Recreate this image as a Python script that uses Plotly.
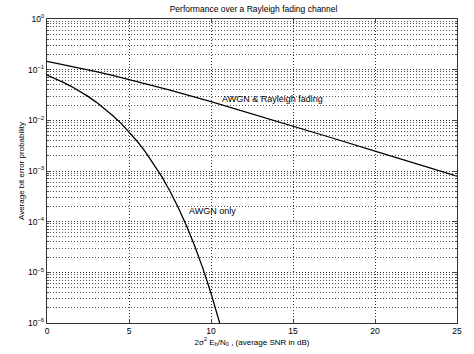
import plotly.graph_objects as go

# Values
snr_awgn = [0, 0.5, 1, 1.5, 2, 2.5, 3, 3.5, 4, 4.5, 5, 5.5, 6, 6.5, 7, 7.5, 8, 8.5, 9, 9.5, 10, 10.5, 11]
pb_awgn = [0.0786, 0.0671, 0.0563, 0.0464, 0.0375, 0.0297, 0.0229, 0.0172, 0.0125, 0.0088,
           0.00595, 0.00386, 0.00239, 0.0014, 7.73e-4, 3.99e-4, 1.91e-4, 8.4e-5, 3.36e-5,
           1.21e-5, 3.87e-6, 1.08e-6, 2.61e-7]

snr_ray = [0, 1, 2, 3, 4, 5, 7.5, 10, 12.5, 15, 17.5, 20, 22.5, 25]
pb_ray = [0.1464, 0.1267, 0.1085, 0.0919, 0.0771, 0.0642, 0.0393, 0.0233, 0.0135,
          0.00772, 0.00438, 0.00248, 0.0014, 0.000789]

x_ticks = [0, 5, 10, 15, 20, 25]
y_ticks = [1e-6, 1e-5, 1e-4, 1e-3, 1e-2, 1e-1, 1]
y_ticktext = ["10<sup>−6</sup>", "10<sup>−5</sup>", "10<sup>−4</sup>", "10<sup>−3</sup>",
              "10<sup>−2</sup>", "10<sup>−1</sup>", "10<sup>0</sup>"]
minor_y = [m * 10.0 ** e for e in range(-6, 0) for m in range(2, 10)]

family = "Liberation Sans, Arial, sans-serif"
font = dict(family=family, size=9, color="black")

fig = go.Figure()
fig.add_trace(go.Scatter(x=snr_ray, y=pb_ray, mode="lines",
                         line=dict(color="black", width=1.3), showlegend=False))
fig.add_trace(go.Scatter(x=snr_awgn, y=pb_awgn, mode="lines",
                         line=dict(color="black", width=1.3), showlegend=False))

fig.add_annotation(x=10.55, y=-1.58, text="AWGN & Rayleigh fading", showarrow=False,
                   xanchor="left", yanchor="middle", font=font)
fig.add_annotation(x=8.55, y=-3.79, text="AWGN only", showarrow=False,
                   xanchor="left", yanchor="middle", font=font)

fig.update_layout(
    width=474, height=354,
    margin=dict(l=47, r=15, t=19, b=28),
    paper_bgcolor="white", plot_bgcolor="white",
    font=dict(family=family, size=8, color="black"),
    title=dict(text="Performance over a Rayleigh fading channel", x=0.535, xanchor="center",
               y=0.975, yanchor="middle", font=dict(family=family, size=8.5)),
    xaxis=dict(range=[0, 25], tickvals=x_ticks, ticks="inside", ticklen=4,
               showline=True, linecolor="#333", linewidth=1.2, mirror="ticks",
               showgrid=True, gridcolor="#333", griddash="1px,2px", gridwidth=1,
               zeroline=False, tickfont=dict(size=8.5),
               title=dict(text="2σ<sup>2</sup> E<sub>b</sub>/N<sub>0</sub> , (average SNR in dB)",
                          standoff=0, font=dict(size=8))),
    yaxis=dict(type="log", range=[-6, 0], tickvals=y_ticks, ticktext=y_ticktext,
               ticks="inside", ticklen=4, tickfont=dict(size=8.5),
               showline=True, linecolor="#333", linewidth=1.2, mirror="ticks",
               showgrid=True, gridcolor="#333", griddash="1px,2px", gridwidth=1,
               minor=dict(tickvals=minor_y, showgrid=True, gridcolor="#555",
                          griddash="1px,2px", gridwidth=1, ticks="inside", ticklen=2),
               title=dict(text="Average bit error probability", standoff=2, font=dict(size=8))),
)

fig.write_html("out.html")
